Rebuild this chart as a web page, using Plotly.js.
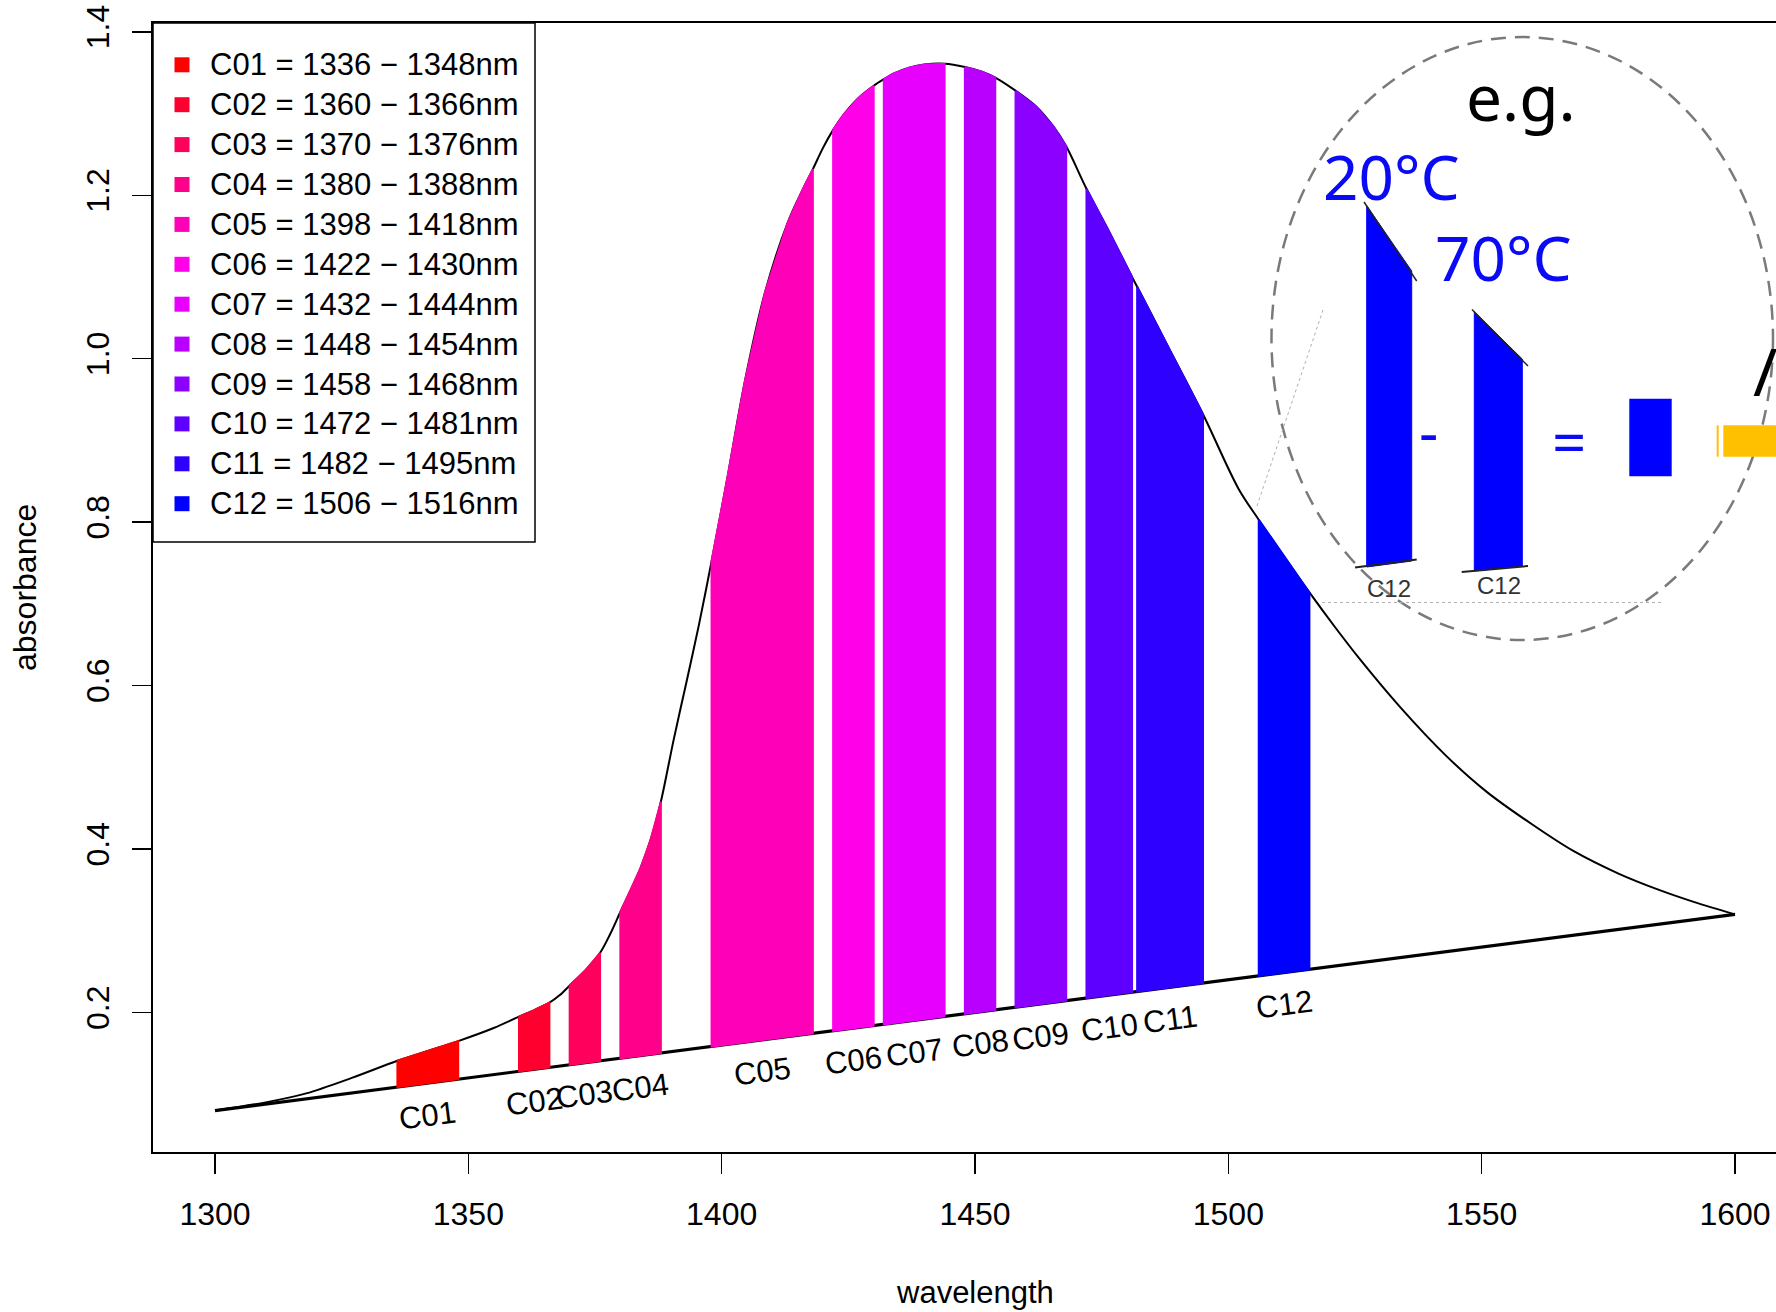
<!DOCTYPE html>
<html>
<head>
<meta charset="utf-8">
<script src="https://cdn.plot.ly/plotly-3.0.1.min.js"></script>
<style>html,body{margin:0;padding:0;background:#fff;overflow:hidden}</style>
</head>
<body>
<div id="chart" style="width:1776px;height:1312px"></div>
<script>
// ---------------- data ----------------
const wavelength = [1300,1310,1318,1327,1336,1342,1348,1355,1360,1363,
  1366,1368,1370,1373,1376,1378,1380,1382,1384,1386,
  1388,1390.5,1393,1395.5,1398,1401,1404.5,1408.5,1413,1416,
  1418,1420,1422,1424,1427,1430,1432,1434,1437,1440,
  1444,1448,1451.5,1454,1458,1462,1465.5,1468,1472,1476.5,
  1481,1482,1488,1495,1502,1506,1511,1516,1521,1526,
  1534,1543,1551,1560,1568,1577,1585,1592,1600];
const absorbance = [0.080,0.090,0.101,0.120,0.141,0.153,0.165,0.181,0.195,0.203,
  0.212,0.221,0.233,0.251,0.273,0.296,0.323,0.349,0.377,0.412,
  0.458,0.533,0.603,0.674,0.752,0.850,0.970,1.080,1.166,1.207,
  1.232,1.258,1.280,1.298,1.319,1.334,1.342,1.349,1.356,1.360,
  1.361,1.357,1.351,1.344,1.328,1.309,1.284,1.260,1.208,1.155,
  1.100,1.088,1.016,0.932,0.841,0.803,0.758,0.714,0.672,0.632,
  0.573,0.514,0.470,0.430,0.398,0.370,0.350,0.335,0.320];
const baselineWl = [1300, 1600];
const baselineAbs = [0.08, 0.32];
const bandNames = ['C01','C02','C03','C04','C05','C06','C07','C08','C09','C10','C11','C12'];
const bandStart = [1336,1360,1370,1380,1398,1422,1432,1448,1458,1472,1482,1506];
const bandEnd   = [1348,1366,1376,1388,1418,1430,1444,1454,1468,1481,1495,1516];
const xTicks = [1300,1350,1400,1450,1500,1550,1600];
const yTicks = [0.2,0.4,0.6,0.8,1.0,1.2,1.4];

// ---------------- styles ----------------
const bandColors = ['#FF0000','#FF002E','#FF005D','#FF008B','#FF00B9','#FF00E8',
                    '#E800FF','#B900FF','#8B00FF','#5D00FF','#2E00FF','#0000FF'];
const FONT = 'Liberation Sans, Arial, Helvetica, sans-serif';
const NOTO = 'Noto Sans, Open Sans, sans-serif';

// pixel -> paper helpers (plot area: x 153..1776, y 23..1152)
const px = x => (x - 153) / 1623;
const py = y => (1152 - y) / 1129;
const baseAt = w => baselineAbs[0] + (baselineAbs[1]-baselineAbs[0])*(w-baselineWl[0])/(baselineWl[1]-baselineWl[0]);

const traces = [];
traces.push({x: wavelength, y: absorbance, mode:'lines', hoverinfo:'skip', showlegend:false,
  line:{color:'#000', width:2, shape:'spline', smoothing:0.9}});
traces.push({x: baselineWl, y: baselineAbs, mode:'lines', hoverinfo:'skip', showlegend:false,
  line:{color:'#000', width:3.2}});
bandNames.forEach((n,i) => {
  const xs = [], ys = [];
  wavelength.forEach((w,j) => { if (w >= bandStart[i] && w <= bandEnd[i]) { xs.push(w); ys.push(absorbance[j]); } });
  xs.push(bandEnd[i], bandStart[i], xs[0]);
  ys.push(baseAt(bandEnd[i]), baseAt(bandStart[i]), ys[0]);
  traces.push({x: xs, y: ys, mode:'lines', fill:'toself', fillcolor: bandColors[i],
    line:{color: bandColors[i], width:2}, hoverinfo:'skip', showlegend:false});
});

const annotations = [];
const shapes = [];

// band labels under the baseline
bandNames.forEach((n,i) => {
  const c = (bandStart[i] + bandEnd[i]) / 2;
  annotations.push({x: c, y: baseAt(c), xref:'x', yref:'y', text: n, showarrow:false,
    xanchor:'center', yanchor:'middle',
    yshift: -32, textangle: -7.3, font:{family: FONT, size: 31, color:'#000'}});
});

// legend
shapes.push({type:'rect', xref:'paper', yref:'paper', x0: px(153), x1: px(535), y0: py(542), y1: py(23),
  line:{color:'#000', width:1.5}, fillcolor:'#fff', layer:'above'});
bandNames.forEach((n,i) => {
  const cy = 64.8 + 39.9*i;
  shapes.push({type:'rect', xref:'paper', yref:'paper', x0: px(174.5), x1: px(189.5), y0: py(cy+7.5), y1: py(cy-7.5),
    line:{width:0}, fillcolor: bandColors[i], layer:'above'});
  annotations.push({x: px(208), y: py(cy), xref:'paper', yref:'paper', xanchor:'left', yanchor:'middle',
    text: n + ' = ' + bandStart[i] + ' \u2212 ' + bandEnd[i] + 'nm', showarrow:false,
    font:{family: FONT, size: 31, color:'#000'}});
});

// axis titles
annotations.push({x: px(974.5), y: py(1292), xref:'paper', yref:'paper', text:'wavelength', showarrow:false,
  xanchor:'center', yanchor:'middle', font:{family: FONT, size: 31, color:'#000'}});
annotations.push({x: px(25), y: py(588), xref:'paper', yref:'paper', text:'absorbance', showarrow:false,
  xanchor:'center', yanchor:'middle', textangle:-90, font:{family: FONT, size: 32, color:'#000'}});

// ---------------- inset illustration ----------------
shapes.push({type:'circle', xref:'paper', yref:'paper', x0: px(1271.5), x1: px(1773), y0: py(640), y1: py(37),
  line:{color:'#7a7a7a', width:2.5, dash:'15px,9px'}});
shapes.push({type:'line', xref:'paper', yref:'paper', x0: px(1257), y0: py(506), x1: px(1323), y1: py(310),
  line:{color:'#b0b0b0', width:1, dash:'dot'}});
shapes.push({type:'line', xref:'paper', yref:'paper', x0: px(1322), y0: py(602.5), x1: px(1662), y1: py(602.5),
  line:{color:'#b0b0b0', width:1, dash:'dot'}});
const pathFrom = pts => 'M' + pts.map(p => px(p[0]) + ',' + py(p[1])).join(' L') + ' Z';
const lineFrom = pts => 'M' + pts.map(p => px(p[0]) + ',' + py(p[1])).join(' L');
// 20 °C bar
shapes.push({type:'path', xref:'paper', yref:'paper', path: pathFrom([[1366.7,205.7],[1411.7,271],[1411.7,561],[1366.7,567]]),
  fillcolor:'#0000FF', line:{color:'#0000FF', width:1}});
shapes.push({type:'path', xref:'paper', yref:'paper', path: lineFrom([[1364,202],[1416.7,281]]), line:{color:'#222', width:1.5}});
shapes.push({type:'path', xref:'paper', yref:'paper', path: lineFrom([[1355,567.5],[1416.7,559.6]]), line:{color:'#222', width:2}});
// 70 °C bar
shapes.push({type:'path', xref:'paper', yref:'paper', path: pathFrom([[1474.3,312],[1522.3,359],[1522.3,566],[1474.3,571]]),
  fillcolor:'#0000FF', line:{color:'#0000FF', width:1}});
shapes.push({type:'path', xref:'paper', yref:'paper', path: lineFrom([[1472,309.5],[1528,366]]), line:{color:'#222', width:1.5}});
shapes.push({type:'path', xref:'paper', yref:'paper', path: lineFrom([[1461.7,572],[1528,566]]), line:{color:'#222', width:2}});
// result bar and orange bar
shapes.push({type:'rect', xref:'paper', yref:'paper', x0: px(1629.3), x1: px(1671.7), y0: py(476.3), y1: py(398.8),
  fillcolor:'#0000FF', line:{width:0}});
shapes.push({type:'rect', xref:'paper', yref:'paper', x0: px(1716.7), x1: px(1718.7), y0: py(456.7), y1: py(425.3),
  fillcolor:'#FFC000', line:{width:0}});
shapes.push({type:'rect', xref:'paper', yref:'paper', x0: px(1723.3), x1: px(1790), y0: py(456.7), y1: py(425.3),
  fillcolor:'#FFC000', line:{width:0}});

const insetText = (t, x, y, size, color, anchor, family) => annotations.push({
  x: px(x), y: py(y), xref:'paper', yref:'paper', text: t, showarrow:false,
  xanchor: anchor || 'center', yanchor:'middle', font:{family: family || NOTO, size: size, color: color}});
insetText('e.g.', 1521, 96, 64, '#000');
insetText('20\u00B0C', 1321, 176, 62, '#0A0AF5', 'left');
insetText('70\u00B0C', 1433, 257, 62, '#0A0AF5', 'left');
insetText('-', 1428.7, 431, 60, '#0A0AF5');
insetText('=', 1569.3, 441, 60, '#0A0AF5');
insetText('/', 1765, 370, 66, '#000');
insetText('C12', 1388.5, 588, 24, '#333', 'center', FONT);
insetText('C12', 1498.5, 585.5, 24, '#333', 'center', FONT);

const layout = {
  width: 1776, height: 1312,
  margin: {l:153, r:0, t:23, b:160, pad:0},
  paper_bgcolor:'#fff', plot_bgcolor:'#fff',
  font: {family: FONT, color:'#000'},
  showlegend: false,
  xaxis: {range:[1287.763, 1608.09], tickvals: xTicks, ticktext: xTicks.map(String),
    ticks:'outside', ticklen:20, tickwidth:1.5, tickcolor:'#000',
    showline:true, linecolor:'#000', linewidth:2, mirror:true,
    showgrid:false, zeroline:false, tickfont:{family: FONT, size:32, color:'#000'},
    ticklabelstandoff: 13, fixedrange:true},
  yaxis: {range:[0.0293, 1.4108], tickvals: yTicks, ticktext: yTicks.map(v => v.toFixed(1)),
    tickangle:-90, ticks:'outside', ticklen:19, tickwidth:1.5, tickcolor:'#000',
    showline:true, linecolor:'#000', linewidth:2,
    showgrid:false, zeroline:false, tickfont:{family: FONT, size:32, color:'#000'},
    ticklabelstandoff: 10, fixedrange:true},
  shapes: shapes,
  annotations: annotations
};
Plotly.newPlot('chart', traces, layout, {displayModeBar:false, staticPlot:true});
</script>
</body>
</html>
